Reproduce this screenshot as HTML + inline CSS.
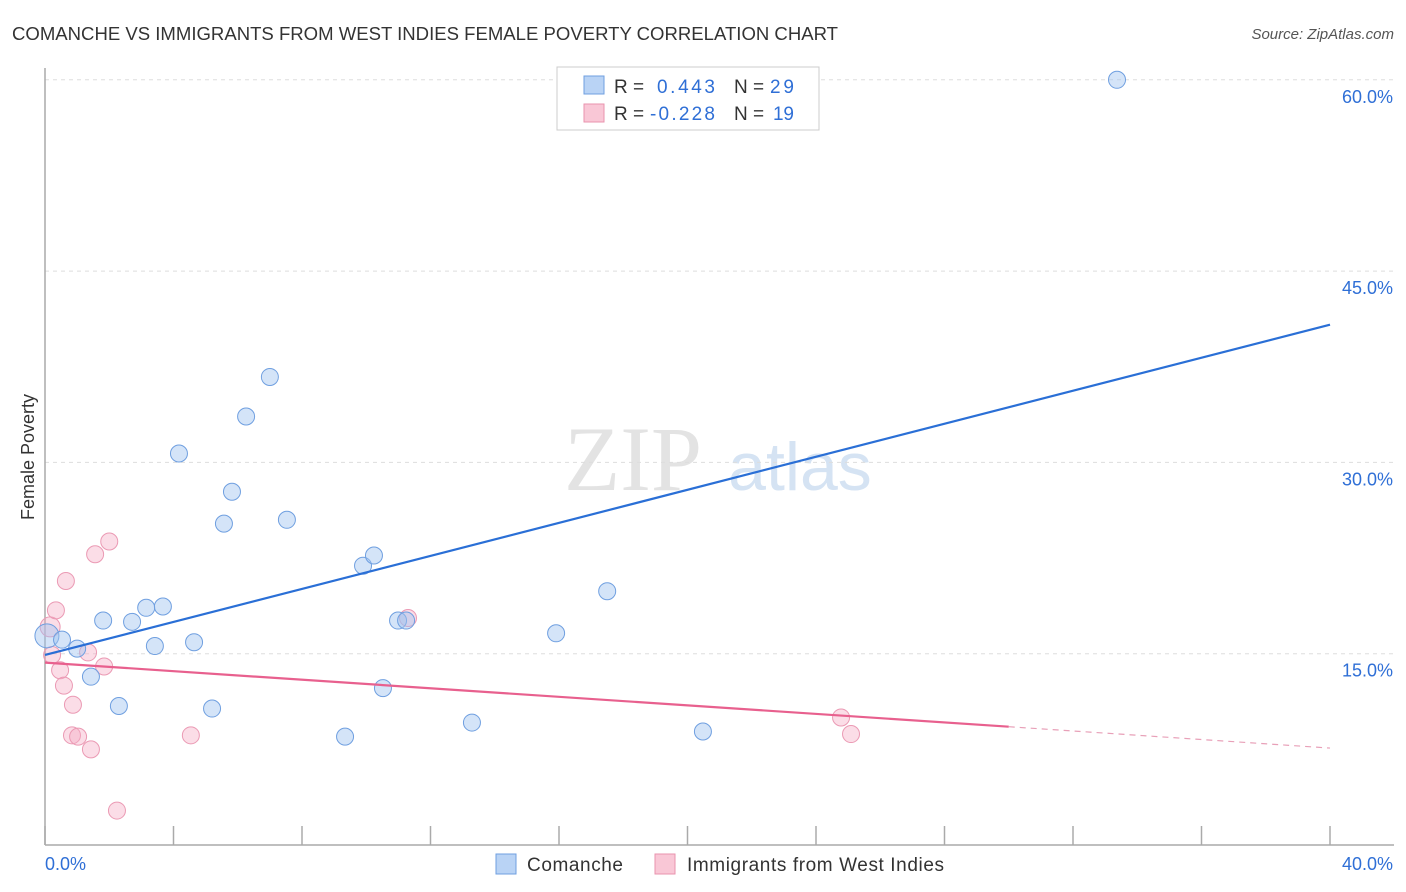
<!DOCTYPE html>
<html><head><meta charset="utf-8">
<style>
body{margin:0;background:#fff;font-family:"Liberation Sans",sans-serif;}
#wrap{position:relative;width:1406px;height:892px;overflow:hidden;}
</style></head>
<body>
<div id="wrap">
<svg id="chart" width="1406" height="892" xmlns="http://www.w3.org/2000/svg">
<text x="12" y="40" font-size="18" fill="#333" textLength="826" lengthAdjust="spacingAndGlyphs">COMANCHE VS IMMIGRANTS FROM WEST INDIES FEMALE POVERTY CORRELATION CHART</text>
<text x="1394" y="39" font-size="15" fill="#555" font-style="italic" text-anchor="end">Source: ZipAtlas.com</text>
<text x="34" y="457" font-size="18" fill="#333" text-anchor="middle" transform="rotate(-90 34 457)">Female Poverty</text>
<g>
<text x="633" y="490" font-size="92" fill="#e3e3e3" font-family="Liberation Serif,serif" text-anchor="middle">ZIP</text>
<text x="800" y="490" font-size="68" fill="#d5e3f3" text-anchor="middle">atlas</text>
</g>
<g id="grid"></g>
<g id="axes"></g>
<g id="points"></g>
<g id="lines"></g>
<g>
<rect x="557" y="67" width="262" height="63" fill="#fff" stroke="#ccc"/>
<rect x="584" y="76" width="20" height="18" fill="#b9d3f5" stroke="#6f9fe0"/>
<text x="614" y="93" font-size="19" fill="#333">R = <tspan fill="#2f6fd6" x="657" textLength="58">0.443</tspan><tspan x="734">N =</tspan><tspan fill="#2f6fd6" x="770" textLength="24">29</tspan></text>
<rect x="584" y="104" width="20" height="18" fill="#f9c7d6" stroke="#e993ae"/>
<text x="614" y="120" font-size="19" fill="#333">R = <tspan fill="#2f6fd6" x="650" textLength="65">-0.228</tspan><tspan x="734">N =</tspan><tspan fill="#2f6fd6" x="773" textLength="21">19</tspan></text>
</g>
<g>
<rect x="496" y="854" width="20" height="20" fill="#b9d3f5" stroke="#6f9fe0"/>
<text x="527" y="871" font-size="19" fill="#333" textLength="96">Comanche</text>
<rect x="655" y="854" width="20" height="20" fill="#f9c7d6" stroke="#e993ae"/>
<text x="687" y="871" font-size="19" fill="#333" textLength="257">Immigrants from West Indies</text>
</g>
</svg>
</div>
<script>
const blueX=[0.06,0.53,1.0,1.43,1.81,2.3,2.71,3.15,3.42,3.67,4.17,4.64,5.2,5.57,5.82,6.26,7.0,7.53,9.34,9.9,10.24,10.52,10.99,11.24,13.29,15.91,17.5,20.48,33.37];
const blueY=[16.4,16.1,15.4,13.2,17.6,10.9,17.5,18.6,15.6,18.7,30.7,15.9,10.7,25.2,27.7,33.6,36.7,25.5,8.5,21.9,22.7,12.3,17.6,17.6,9.6,16.6,19.9,8.9,60.0];
const pinkX=[0.16,0.22,0.34,0.47,0.59,0.65,0.87,0.84,1.03,1.34,1.43,1.56,1.84,2.0,2.24,4.54,11.3,24.78,25.09];
const pinkY=[17.1,14.9,18.4,13.7,12.5,20.7,11.0,8.6,8.5,15.1,7.5,22.8,14.0,23.8,2.7,8.6,17.8,10.0,8.7];
const blueFit=[14.9,40.8];
const pinkFit=[14.3,7.6];
const pinkSolidEnd=30.0;
const yTicks=[15,30,45,60];
const yTickLabels=["15.0%","30.0%","45.0%","60.0%"];
const xTicks=[0,4,8,12,16,20,24,28,32,36,40];
const xEndLabels=["0.0%","40.0%"];

const NS="http://www.w3.org/2000/svg";
const X=v=>45+v*(1285/40);
const Y=v=>845-v*(191.3/15);
function mk(tag,attrs,parent){const e=document.createElementNS(NS,tag);for(const k in attrs)e.setAttribute(k,attrs[k]);parent.appendChild(e);return e;}
const grid=document.getElementById('grid'),axes=document.getElementById('axes'),pts=document.getElementById('points'),lines=document.getElementById('lines');
yTicks.forEach((t,i)=>{
  const l=mk('line',{x1:45,x2:1394,y1:Y(t),y2:Y(t),stroke:'#ddd','stroke-dasharray':'4,4'},grid);
  
  
  const tx=mk('text',{x:1393,y:Y(t)+23,'font-size':18,fill:'#2f6fd6','text-anchor':'end'},grid);
  tx.textContent=yTickLabels[i];
  
  
});
const ya=mk('line',{x1:45,x2:45,y1:68,y2:845,stroke:'#aaa','stroke-width':1.5},axes);


const xa=mk('line',{x1:45,x2:1394,y1:845,y2:845,stroke:'#aaa','stroke-width':1.5},axes);


xTicks.forEach(t=>{
  const l=mk('line',{x1:X(t),x2:X(t),y1:826,y2:845,stroke:'#aaa','stroke-width':1.5},axes);
  
  
});
const xl0=mk('text',{x:45,y:870,'font-size':18,fill:'#2f6fd6'},axes);xl0.textContent=xEndLabels[0];


const xl1=mk('text',{x:1393,y:870,'font-size':18,fill:'#2f6fd6','text-anchor':'end'},axes);xl1.textContent=xEndLabels[1];


pinkX.forEach((x,i)=>{
  const c=mk('circle',{cx:X(x),cy:Y(pinkY[i]),r:i===0?10:8.5,fill:'rgba(246,170,195,0.4)',stroke:'#eb9ab4','stroke-width':1},pts);
  
  
});
blueX.forEach((x,i)=>{
  const c=mk('circle',{cx:X(x),cy:Y(blueY[i]),r:i===0?12:8.5,fill:'rgba(160,195,240,0.45)',stroke:'#6f9fe0','stroke-width':1},pts);
  
  
});
const bl=mk('line',{x1:X(0),y1:Y(blueFit[0]),x2:X(40),y2:Y(blueFit[1]),stroke:'#2a6fd6','stroke-width':2.2},lines);


const pe=pinkFit[0]+(pinkFit[1]-pinkFit[0])*pinkSolidEnd/40;
const pl=mk('line',{x1:X(0),y1:Y(pinkFit[0]),x2:X(pinkSolidEnd),y2:Y(pe),stroke:'#e8608e','stroke-width':2.2},lines);


const pd=mk('line',{x1:X(pinkSolidEnd),y1:Y(pe),x2:X(40),y2:Y(pinkFit[1]),stroke:'#e8a0b8','stroke-width':1.2,'stroke-dasharray':'6,5'},lines);


</script>
</body></html>
